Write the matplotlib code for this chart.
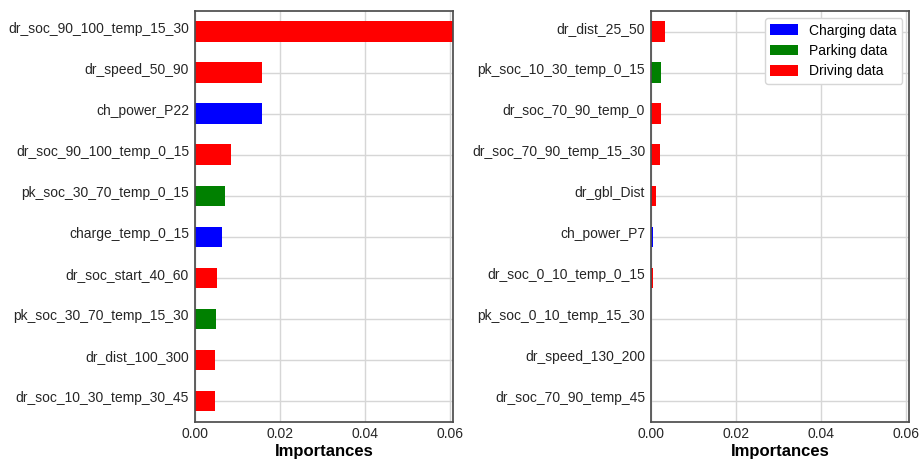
import matplotlib
matplotlib.use("Agg")
import matplotlib.pyplot as plt
import matplotlib.transforms as mtransforms
from matplotlib.patches import Patch

plt.rcParams['font.family'] = ['Liberation Sans', 'DejaVu Sans']

# Left panel (top to bottom)
left_labels = ["dr_soc_90_100_temp_15_30", "dr_speed_50_90", "ch_power_P22",
               "dr_soc_90_100_temp_0_15", "pk_soc_30_70_temp_0_15", "charge_temp_0_15",
               "dr_soc_start_40_60", "pk_soc_30_70_temp_15_30", "dr_dist_100_300",
               "dr_soc_10_30_temp_30_45"]
left_values = [0.065, 0.0159, 0.01575, 0.00863, 0.00715, 0.0064,
               0.00527, 0.00504, 0.0048, 0.00475]
left_groups = ["Driving", "Driving", "Charging", "Driving", "Parking", "Charging",
               "Driving", "Parking", "Driving", "Driving"]

# Right panel (top to bottom)
right_labels = ["dr_dist_25_50", "pk_soc_10_30_temp_0_15", "dr_soc_70_90_temp_0",
                "dr_soc_70_90_temp_15_30", "dr_gbl_Dist", "ch_power_P7",
                "dr_soc_0_10_temp_0_15", "pk_soc_0_10_temp_15_30", "dr_speed_130_200",
                "dr_soc_70_90_temp_45"]
right_values = [0.0033, 0.0024, 0.0024, 0.0021, 0.0012, 0.0005,
                0.0005, 0.0001, 0.0, 0.0]
right_groups = ["Driving", "Parking", "Driving", "Driving", "Driving", "Charging",
                "Driving", "Parking", "Driving", "Driving"]

group_colors = {"Charging": "blue", "Parking": "green", "Driving": "red"}
legend_names = ["Charging data", "Parking data", "Driving data"]
legend_groups = ["Charging", "Parking", "Driving"]

x_ticks = [0.00, 0.02, 0.04, 0.06]
x_max = 0.0607

fig = plt.figure(figsize=(9.2, 4.61), dpi=100)
ax1 = fig.add_axes([0.2116, 0.0853, 0.2811, 0.8908])
ax2 = fig.add_axes([0.7073, 0.0853, 0.2811, 0.8908])

shift_up = mtransforms.ScaledTranslation(0, 4.5 / 100, fig.dpi_scale_trans)

def draw(ax, labels, values, groups):
    ax.set_axisbelow(True)
    ax.grid(True, color="#d6d6d6", linewidth=1.0)
    ax.barh(labels[::-1], values[::-1], height=0.5,
            color=[group_colors[g] for g in groups[::-1]])
    ax.set_xlim(0, x_max)
    ax.set_ylim(-0.5, len(labels) - 0.5)
    ax.set_xticks(x_ticks)
    ax.set_xticklabels([f"{t:.2f}" for t in x_ticks])
    ax.tick_params(axis="both", length=0, labelsize=10, pad=4, colors="#262626")
    ax.set_xlabel("Importances", fontsize=12, fontweight="bold", labelpad=2)
    for lbl in ax.get_yticklabels():
        lbl.set_transform(lbl.get_transform() + shift_up)
    for s in ax.spines.values():
        s.set_color("#4d4d4d")
        s.set_linewidth(1.25)

draw(ax1, left_labels, left_values, left_groups)
draw(ax2, right_labels, right_values, right_groups)

handles = [Patch(facecolor=group_colors[g], edgecolor="none") for g in legend_groups]
leg = ax2.legend(handles, legend_names, loc="upper right", fontsize=10,
                 frameon=True, fancybox=True, framealpha=1.0,
                 handlelength=2.0, handleheight=0.8, borderpad=0.4,
                 labelspacing=0.45, borderaxespad=0.5)
leg.get_frame().set_edgecolor("#d6d6d6")

fig.savefig("out.png", dpi=100)
